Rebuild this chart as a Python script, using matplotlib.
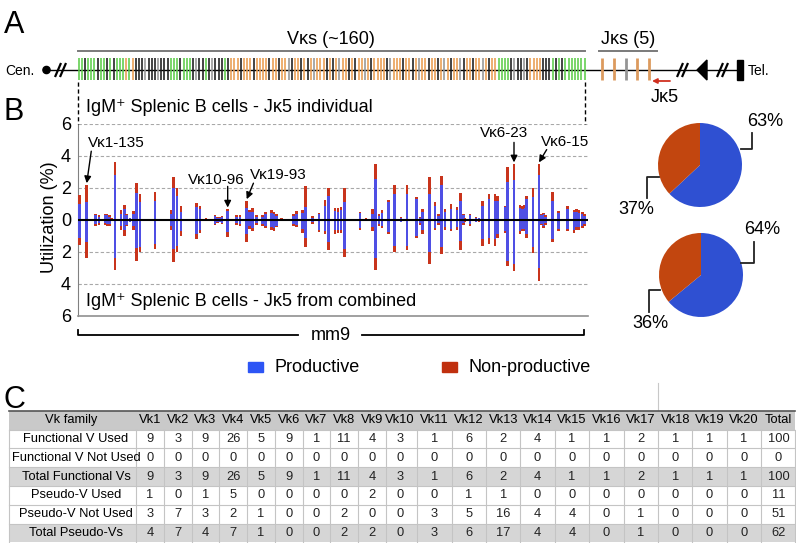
import matplotlib.pyplot as plt
from matplotlib.patches import Rectangle, Polygon, Circle

plt.rcParams['font.family'] = ['Liberation Sans', 'DejaVu Sans']

W, H = 796, 543

# ---------------- panel A: Igk locus, one letter per gene segment
# g = green, o = orange, k = black, y = grey
vk_types = ("ggkgggkggkgkggg" "ogo" "kkkykkkykkk" "gggkggg" "kykkgkykkkgk"
            "oookoookooooko" "okooykookokoyoookokoyookokooyokooookyoooko"
            "okoyookookoyokooykookooyokoo" "gggg" "kykkyko" "ooo" "kkk" "gkgkggggggg")
jk_types = "ooyoo"
type_colors = {'g': '#5ccc4a', 'o': '#e99c50', 'k': '#1a1a1a', 'y': '#959595'}

# ---------------- panel B: Vk utilization (%) along the locus (position in % of V region)
bar_pos = [0.29, 1.71, 3.47, 4.12, 5.29, 5.69, 6.14, 6.61, 7.25, 8.43,
           9.08, 9.55, 10.2, 10.88, 11.51, 12.16, 15.1, 18.24, 18.76, 19.41,
           20.2, 23.27, 23.92, 25.1, 26.86, 27.39, 27.84, 28.24, 29.35, 31.12,
           31.76, 33.08, 33.59, 34.25, 34.96, 36.18, 36.8, 37.98, 38.43, 38.92,
           39.94, 40.98, 42.22, 42.88, 44.02, 44.65, 45.98, 47.25, 48.43, 49.08,
           50.39, 50.98, 51.57, 52.22, 55.29, 56.47, 57.78, 58.37, 59.02, 59.61,
           60.84, 62.02, 63.33, 64.51, 66.33, 67.06, 67.59, 68.88, 70.0, 70.65,
           71.31, 71.96, 73.14, 74.31, 75.04, 75.55, 75.88, 76.86, 78.04, 78.63,
           79.35, 80.59, 81.76, 82.29, 83.73, 84.25, 85.49, 86.67, 87.12, 87.45,
           87.98, 89.22, 90.39, 90.92, 91.24, 91.71, 93.0, 94.18, 94.84, 95.94,
           97.25, 97.78, 98.24, 98.88, 99.27]

# Jk5 individual (upper half): total height and productive part
ind_total = [1.55, 2.2, 0.4, 0.3, 0.4, 0.4, 0.3, 0.1, 3.6, 0.6,
             0.95, 0.4, 0.15, 0.55, 2.3, 1.65, 1.77, 0.65, 2.7, 2.0,
             0.9, 1.05, 0.85, 0.1, 0.3, 0.2, 0.2, 0.25, 0.68, 0.3,
             0.3, 1.2, 0.65, 0.75, 0.3, 0.3, 0.5, 0.6, 0.5, 0.35,
             0.1, 0.05, 0.35, 0.55, 0.6, 2.1, 0.25, 0.45, 1.25, 2.0,
             0.75, 0.75, 0.8, 2.0, 0.5, 0.1, 0.67, 3.5, 0.35, 0.6,
             1.23, 2.2, 0.2, 2.2, 1.45, 0.2, 0.67, 2.7, 1.15, 0.35,
             2.75, 0.67, 1.0, 0.8, 1.7, 0.4, 0.1, 0.4, 0.2, 0.15,
             1.2, 1.65, 1.65, 1.5, 0.9, 3.3, 3.5, 0.95, 0.87, 0.92,
             1.5, 2.0, 3.5, 0.4, 0.45, 0.3, 1.75, 0.56, 0.05, 0.87,
             0.63, 0.67, 0.6, 0.52, 0.35]
ind_prod = [1.0, 1.15, 0.3, 0.2, 0.3, 0.3, 0.2, 0.05, 2.8, 0.35,
            0.7, 0.3, 0.1, 0.35, 1.7, 1.1, 1.2, 0.4, 2.0, 1.5,
            0.5, 0.8, 0.7, 0.05, 0.25, 0.15, 0.15, 0.2, 0.55, 0.2,
            0.2, 0.75, 0.5, 0.5, 0.2, 0.2, 0.35, 0.45, 0.4, 0.25,
            0.05, 0.05, 0.25, 0.35, 0.45, 0.8, 0.15, 0.35, 0.9, 1.5,
            0.55, 0.5, 0.6, 1.1, 0.45, 0.05, 0.4, 2.55, 0.25, 0.45,
            1.1, 1.6, 0.15, 1.65, 1.3, 0.15, 0.5, 1.65, 0.9, 0.25,
            2.2, 0.5, 0.7, 0.6, 1.2, 0.3, 0.05, 0.3, 0.15, 0.1,
            0.9, 1.3, 1.2, 1.2, 0.8, 2.4, 2.5, 0.75, 0.7, 0.75,
            1.3, 1.45, 2.8, 0.3, 0.35, 0.2, 1.2, 0.45, 0.05, 0.7,
            0.5, 0.5, 0.45, 0.4, 0.25]

# Jk5 from combined (lower half)
comb_total = [1.55, 2.35, 0.35, 0.3, 0.3, 0.35, 0.35, 0.05, 3.15, 0.6,
              1.0, 0.4, 0.1, 0.6, 2.55, 2.0, 1.83, 0.6, 2.65, 2.0,
              1.0, 1.2, 0.8, 0.05, 0.3, 0.2, 0.15, 0.25, 1.05, 0.3,
              0.35, 1.4, 0.55, 0.7, 0.3, 0.35, 0.5, 0.65, 0.7, 0.45,
              0.05, 0.05, 0.35, 0.45, 0.8, 1.7, 0.25, 0.75, 0.9, 1.9,
              0.85, 0.8, 0.8, 2.3, 0.6, 0.05, 0.7, 3.15, 0.37, 0.5,
              0.85, 2.0, 0.15, 1.9, 1.15, 0.3, 0.9, 2.75, 0.65, 0.3,
              2.15, 0.6, 0.7, 0.6, 1.9, 0.3, 0.1, 0.37, 0.15, 0.1,
              1.6, 1.5, 1.6, 1.15, 0.8, 2.9, 3.2, 0.9, 0.7, 0.7,
              1.15, 2.05, 3.8, 0.33, 0.5, 0.3, 1.4, 0.7, 0.05, 0.7,
              0.8, 0.6, 0.6, 0.52, 0.37]
comb_prod = [1.1, 1.35, 0.25, 0.2, 0.2, 0.25, 0.25, 0.05, 2.35, 0.4,
             0.6, 0.3, 0.1, 0.4, 1.75, 1.7, 1.5, 0.4, 1.8, 1.6,
             0.7, 0.9, 0.6, 0.05, 0.25, 0.15, 0.1, 0.2, 0.75, 0.2,
             0.25, 0.85, 0.4, 0.5, 0.2, 0.25, 0.35, 0.45, 0.5, 0.35,
             0.05, 0.05, 0.25, 0.3, 0.55, 1.1, 0.15, 0.6, 0.7, 1.4,
             0.6, 0.6, 0.6, 1.8, 0.5, 0.05, 0.45, 2.4, 0.25, 0.4,
             0.75, 1.6, 0.1, 1.6, 1.0, 0.2, 0.6, 2.0, 0.5, 0.2,
             1.7, 0.45, 0.55, 0.45, 1.3, 0.2, 0.05, 0.25, 0.1, 0.05,
             1.2, 1.1, 1.2, 0.9, 0.7, 2.55, 2.75, 0.7, 0.55, 0.55,
             0.9, 1.7, 3.0, 0.25, 0.4, 0.2, 1.2, 0.55, 0.05, 0.55,
             0.6, 0.45, 0.45, 0.4, 0.25]

# labelled genes: name, bar index
gene_labels = [("Vκ1-135", 1), ("Vκ10-96", 28), ("Vκ19-93", 31),
               ("Vκ6-23", 86), ("Vκ6-15", 92)]

pie_ind = [63, 37]
pie_comb = [64, 36]

# ---------------- panel C: table
families = ["Vk1", "Vk2", "Vk3", "Vk4", "Vk5", "Vk6", "Vk7", "Vk8", "Vk9", "Vk10",
            "Vk11", "Vk12", "Vk13", "Vk14", "Vk15", "Vk16", "Vk17", "Vk18", "Vk19",
            "Vk20", "Total"]
row_names = ["Functional V Used", "Functional V Not Used", "Total Functional Vs",
             "Pseudo-V Used", "Pseudo-V Not Used", "Total Pseudo-Vs"]
func_used = [9, 3, 9, 26, 5, 9, 1, 11, 4, 3, 1, 6, 2, 4, 1, 1, 2, 1, 1, 1, 100]
func_not_used = [0] * 21
func_total = [9, 3, 9, 26, 5, 9, 1, 11, 4, 3, 1, 6, 2, 4, 1, 1, 2, 1, 1, 1, 100]
pseudo_used = [1, 0, 1, 5, 0, 0, 0, 0, 2, 0, 0, 1, 1, 0, 0, 0, 0, 0, 0, 0, 11]
pseudo_not_used = [3, 7, 3, 2, 1, 0, 0, 2, 0, 0, 3, 5, 16, 4, 4, 0, 1, 0, 0, 0, 51]
pseudo_total = [4, 7, 4, 7, 1, 0, 0, 2, 2, 0, 3, 6, 17, 4, 4, 0, 1, 0, 0, 0, 62]
table_rows = [func_used, func_not_used, func_total, pseudo_used, pseudo_not_used, pseudo_total]
shaded_rows = [2, 5]

BAR_BLUE = '#4f4fe4'
BAR_RED = '#c8341c'
PIE_BLUE = '#2f50d2'
PIE_RED = '#c2460f'
LEG_BLUE = '#2d55f5'
LEG_RED = '#c0300f'
FS = 13

fig = plt.figure(figsize=(W / 100, H / 100), dpi=100)


def px_axes(x0, y0, x1, y1):
    return fig.add_axes([x0 / W, 1 - y1 / H, (x1 - x0) / W, (y1 - y0) / H])


# ---------------- bar chart
ax = px_axes(78, 124, 588, 316)
ax.patch.set_visible(False)
bw = 0.5
ax.bar(bar_pos, ind_prod, width=bw, color=BAR_BLUE, linewidth=0, zorder=3)
ax.bar(bar_pos, [t - p for t, p in zip(ind_total, ind_prod)], bottom=ind_prod,
       width=bw, color=BAR_RED, linewidth=0, zorder=3)
ax.bar(bar_pos, [-p for p in comb_prod], width=bw, color=BAR_BLUE, linewidth=0, zorder=3)
ax.bar(bar_pos, [p - t for t, p in zip(comb_total, comb_prod)],
       bottom=[-p for p in comb_prod], width=bw, color=BAR_RED, linewidth=0, zorder=3)
for v in [6, 4, 2, -2, -4]:
    ax.axhline(v, color='#a8a8a8', lw=0.8, ls=(0, (3, 2)), zorder=1)
ax.axhline(0, color='black', lw=1.5, zorder=4)
ax.set_xlim(0, 100)
ax.set_ylim(-6, 6)
ax.set_yticks([-6, -4, -2, 0, 2, 4, 6])
ax.set_yticklabels(['6', '4', '2', '0', '2', '4', '6'], fontsize=FS)
ax.tick_params(axis='y', length=0, pad=5)
ax.set_xticks([])
for s in ['top', 'right']:
    ax.spines[s].set_visible(False)
ax.spines['left'].set_color('#808080')
ax.spines['bottom'].set_color('#909090')
ax.spines['bottom'].set_linewidth(1.2)
ax.text(-0.056, 0.515, "Utilization (%)", rotation=90, ha='center', va='center',
        fontsize=FS, transform=ax.transAxes)
ax.text(1.6, 7.0, "IgM⁺ Splenic B cells - Jκ5 individual", fontsize=FS,
        ha='left', va='center', clip_on=False)
ax.text(1.6, -5.1, "IgM⁺ Splenic B cells - Jκ5 from combined", fontsize=FS,
        ha='left', va='center')

# gene label arrows (text centre, arrow start)
label_layout = [((1.9, 4.8, 'left'), (2.6, 4.3)),
                ((27.1, 2.5, 'center'), (29.35, 2.1)),
                ((39.2, 2.8, 'center'), (34.4, 2.3)),
                ((83.5, 5.45, 'center'), (85.49, 4.85)),
                ((95.5, 4.9, 'center'), (91.9, 4.4))]
for (name, i), ((tx, ty, ha), (sx, sy)) in zip(gene_labels, label_layout):
    ax.text(tx, ty, name, fontsize=11, ha=ha, va='center')
    ax.annotate('', xy=(bar_pos[i], ind_total[i] + 0.1), xytext=(sx, sy),
                arrowprops=dict(arrowstyle='-|>', color='black', lw=1.0,
                                mutation_scale=10, shrinkA=0, shrinkB=0))

# ---------------- pies
for vals, (x0, y0) in [(pie_ind, (658, 123)), (pie_comb, (659, 233))]:
    pa = px_axes(x0, y0, x0 + 84, y0 + 84)
    pa.pie(vals, colors=[PIE_BLUE, PIE_RED], startangle=90, counterclock=False,
           wedgeprops=dict(linewidth=0))
    pa.set_xlim(-1, 1)
    pa.set_ylim(-1, 1)
    pa.set_aspect('equal')

# ---------------- overlay for annotations, locus, legend, table
ov = fig.add_axes([0, 0, 1, 1])
ov.set_xlim(0, W)
ov.set_ylim(H, 0)
ov.axis('off')

for letter, (x, y) in [("A", (14, 25)), ("B", (14, 112)), ("C", (14, 400))]:
    ov.text(x, y, letter, fontsize=22, ha='center', va='center')

# locus line and stripes
ov.plot([50, 740], [70, 70], color='black', lw=1.0, zorder=1)
n = len(vk_types)
v0, v1 = 78.5, 584.5
for i, t in enumerate(vk_types):
    x = v0 + i * (v1 - v0) / (n - 1)
    ov.plot([x, x], [58, 80], color=type_colors[t], lw=1.15, solid_capstyle='butt', zorder=2)
j0, j1 = 602, 649
for i, t in enumerate(jk_types):
    x = j0 + i * (j1 - j0) / (len(jk_types) - 1)
    ov.plot([x, x], [58, 80], color=type_colors[t] if t != 'o' else '#dc9a5e',
            lw=2.0, solid_capstyle='butt', zorder=2)
ov.plot([78, 585], [51, 51], color='#7a7a7a', lw=1.4)
ov.plot([599, 657], [51, 51], color='#7a7a7a', lw=1.4)
ov.text(331, 39, "Vκs (~160)", fontsize=FS, ha='center', va='center')
ov.text(628, 39, "Jκs (5)", fontsize=FS, ha='center', va='center')
ov.text(5, 71, "Cen.", fontsize=10, ha='left', va='center')
ov.text(748, 71, "Tel.", fontsize=10, ha='left', va='center')
ov.add_patch(Circle((46.5, 70), 3.6, color='black'))
for xs in [(55, 61), (60, 66), (677, 683), (682, 688), (717, 723), (722, 728)]:
    ov.plot([xs[0], xs[1]], [77, 63], color='black', lw=1.6, solid_capstyle='butt')
ov.add_patch(Polygon([(697, 70), (707, 60), (707, 80)], closed=True, color='black'))
ov.add_patch(Rectangle((737, 60), 6, 20, color='black'))
ov.annotate('', xy=(652, 81), xytext=(670, 81),
            arrowprops=dict(arrowstyle='-|>', color='#d03020', lw=1.3,
                            mutation_scale=7, shrinkA=0, shrinkB=0))
ov.text(665, 97, "Jκ5", fontsize=FS, ha='center', va='center')
for x in [77.5, 585]:
    ov.plot([x, x], [82, 124], color='black', lw=1.0, ls=(0, (3, 2)))

# pie labels with leader lines
ov.text(765, 122, f"{pie_ind[0]}%", fontsize=FS, ha='center', va='center')
ov.plot([741, 751.7, 751.7], [149.3, 149.3, 133], color='#222', lw=1.3)
ov.text(636, 210, f"{pie_ind[1]}%", fontsize=FS, ha='center', va='center')
ov.plot([658.5, 646.7, 646.7], [176.7, 176.7, 198], color='#222', lw=1.3)
ov.text(762, 230, f"{pie_comb[0]}%", fontsize=FS, ha='center', va='center')
ov.plot([741, 754, 754], [263.3, 263.3, 241.5], color='#222', lw=1.3)
ov.text(650, 323, f"{pie_comb[1]}%", fontsize=FS, ha='center', va='center')
ov.plot([660, 649.3, 649.3], [290, 290, 311.5], color='#222', lw=1.3)

# mm9 bracket
ov.plot([77.5, 77.5, 298], [330, 335, 335], color='black', lw=1.3)
ov.plot([362, 583.5, 583.5], [335, 335, 330], color='black', lw=1.3)
ov.text(331, 335, "mm9", fontsize=FS, ha='center', va='center')

# legend
ov.add_patch(Rectangle((248, 362), 15, 10, color=LEG_BLUE))
ov.text(275, 368, "Productive", fontsize=FS, ha='left', va='center')
ov.add_patch(Rectangle((442, 362), 15, 10, color=LEG_RED))
ov.text(469, 368, "Non-productive", fontsize=FS, ha='left', va='center')
ov.plot([658, 658], [383, 410], color='#c8c8c8', lw=0.8)

# ---------------- table
col_x = [150, 177.75, 205.5, 233.25, 261, 288.75, 316.5, 344.25, 372,
         400, 434.4, 468.8, 503.2, 537.6, 572, 606.4, 640.8, 675.2, 709.6, 744, 778.4]
bounds = [136] + [(a + b) / 2 for a, b in zip(col_x[:-1], col_x[1:])] + [795]
top, row_h = 410.7, 18.8
ov.add_patch(Rectangle((9, top), 786, row_h, color='#c9c9c9', lw=0))
for r in shaded_rows:
    ov.add_patch(Rectangle((9, top + (r + 1) * row_h), 786, row_h, color='#d6d6d6', lw=0))
for k in range(1, 7):
    ov.plot([9, 795], [top + k * row_h, top + k * row_h], color='#c4c4c4', lw=0.8)
for b in [9] + bounds:
    ov.plot([b, b], [top + row_h, H], color='#c4c4c4', lw=0.8)
ov.plot([9, 795], [top, top], color='#555555', lw=1.2)
ov.text(71, top + row_h / 2, "Vk family", fontsize=9.3, ha='center', va='center')
for x, fam in zip(col_x, families):
    ov.text(x, top + row_h / 2, fam, fontsize=9.3, ha='center', va='center')
for r, (name, vals) in enumerate(zip(row_names, table_rows)):
    y = top + (r + 1.5) * row_h
    ov.text(76, y, name, fontsize=9.3, ha='center', va='center')
    for x, v in zip(col_x, vals):
        ov.text(x, y, str(v), fontsize=9.3, ha='center', va='center', color='#222')

fig.savefig('out.png', dpi=100)
